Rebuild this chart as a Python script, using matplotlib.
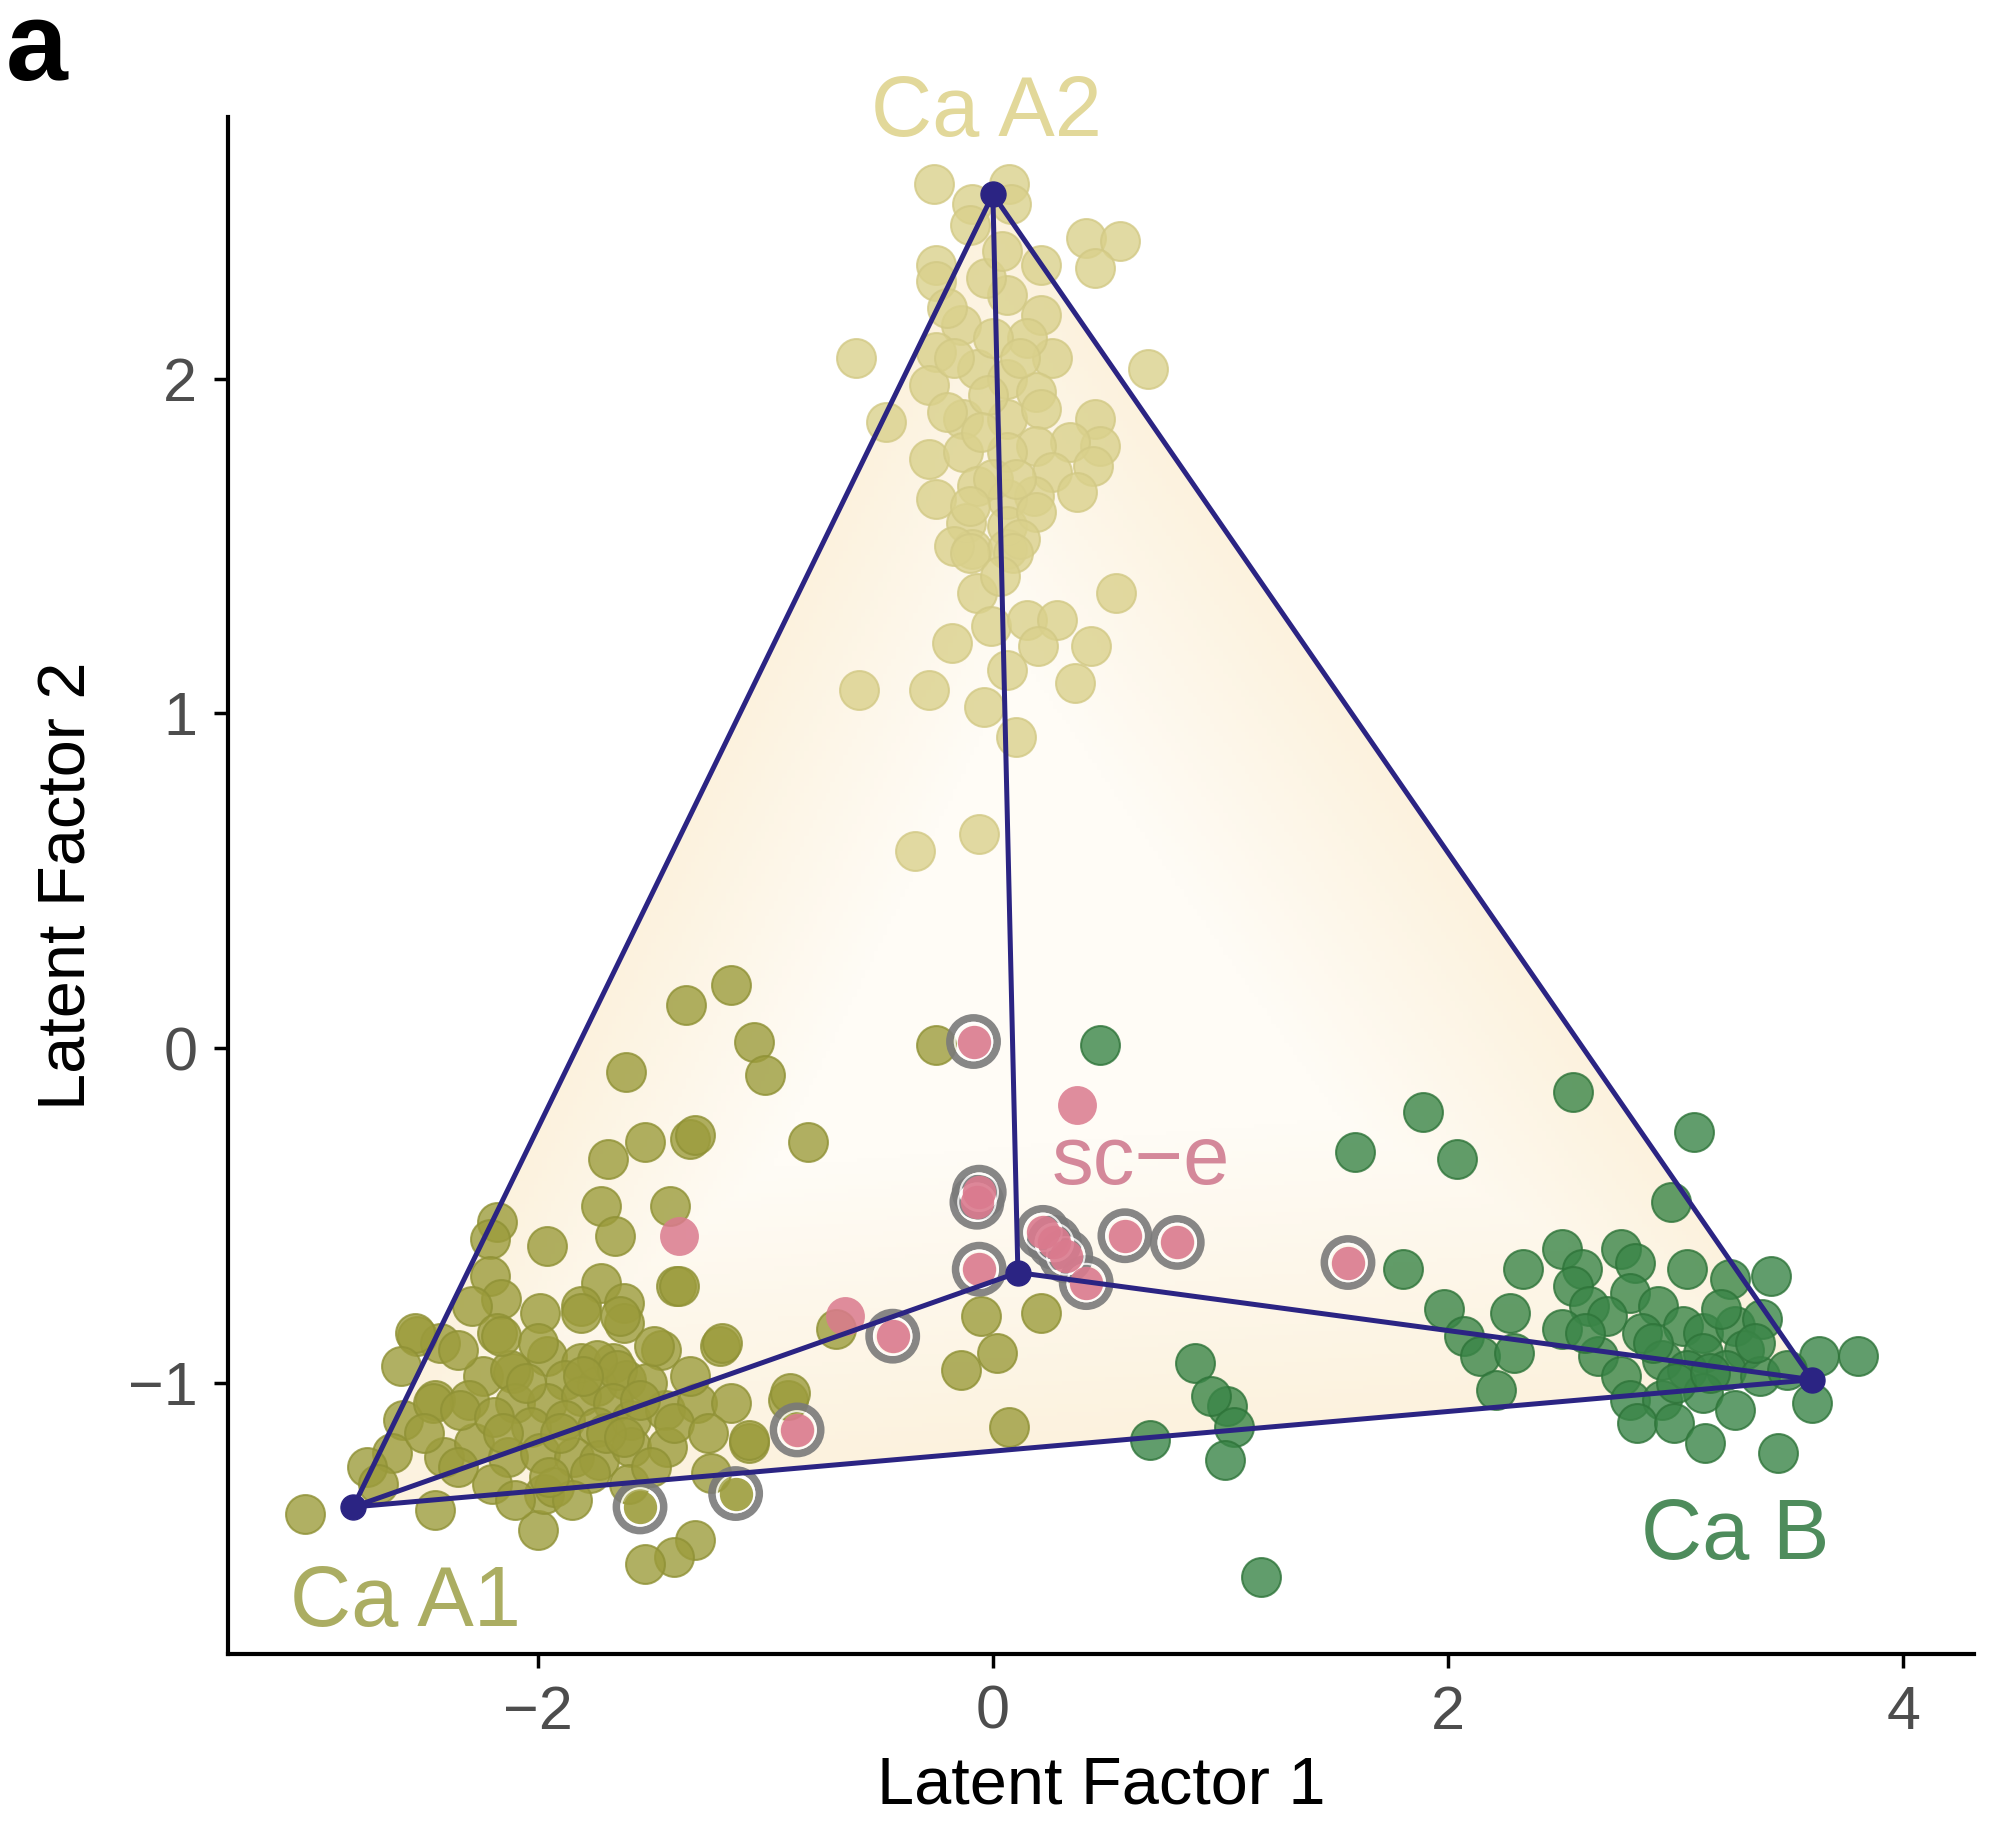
import numpy as np
import matplotlib.pyplot as plt
from matplotlib.patches import Polygon

plt.rcParams['font.family'] = ['Liberation Sans', 'DejaVu Sans']

# archetype vertices and centre
ca_a1 = (-2.81, -1.37)
ca_a2 = (0.0, 2.55)
ca_b = (3.60, -0.99)
centre = (0.11, -0.67)

# Ca A2 cells
a2_x = [-0.26, 0.07, 0.08, -0.09, -0.10, 0.41, 0.56, 0.45, 0.21, -0.25, -0.25, -0.60, 0.68, -0.47,
        0.06, 0.21, 0.26, 0.15, -0.14, -0.25, -0.28, -0.07, 0.06, 0.19, -0.13, 0.06, 0.21, 0.45,
        0.47, 0.34, 0.19, -0.28, -0.13, 0.06, 0.26, 0.44, 0.37, 0.18, -0.25, -0.07, 0.06, -0.12,
        0.06, 0.19, -0.09, 0.06, -0.17, 0.12, -0.20, -0.03, -0.17, 0.00, -0.20, 0.12,
        -0.10, 0.09, -0.07, 0.03, -0.01, 0.15, 0.28, 0.20, 0.43, 0.54, -0.18, 0.06, 0.36, -0.59,
        -0.28, -0.04, 0.10, -0.06, -0.34, -0.02, 0.00, -0.05, 0.10, -0.10, 0.04]
a2_y = [2.58, 2.58, 2.52, 2.52, 2.46, 2.42, 2.41, 2.33, 2.34, 2.34, 2.29, 2.06, 2.03, 1.87,
        2.25, 2.19, 2.06, 2.12, 2.16, 2.08, 1.98, 2.03, 2.00, 1.96, 1.88, 1.88, 1.91, 1.88,
        1.80, 1.81, 1.80, 1.76, 1.78, 1.78, 1.72, 1.74, 1.66, 1.65, 1.64, 1.68, 1.64, 1.57,
        1.56, 1.60, 1.49, 1.49, 1.50, 1.52, 2.21, 2.30, 2.06, 2.12, 1.90, 2.06,
        1.48, 1.48, 1.36, 1.41, 1.26, 1.28, 1.28, 1.20, 1.20, 1.36, 1.21, 1.13, 1.09, 1.07,
        1.07, 1.02, 0.93, 0.64, 0.59, 1.95, 1.70, 1.84, 1.70, 1.62, 2.38]

# Ca A1 cells
a1_x = [-1.35, -1.61, -1.53, -1.69, -1.33, -1.72, -1.42, -1.66, -2.18, -2.21, -1.96, -2.21,
        -1.39, -1.72, -1.62, -1.81, -1.99, -2.16, -2.29, -1.62, -2.53, -2.43, -2.18, -1.96,
        -1.46, -2.24, -2.11, -1.81, -1.67, -1.88, -1.74, -1.61, -2.45, -2.30,
        -3.02, -2.45, -2.00, -1.31, -1.40, -1.53, -1.97, -1.20, -1.07, -0.90, -1.24, -2.54,
        -2.59, -2.46, -2.64, -2.41, -2.28, -2.34, -2.12, -2.16, -1.81, -1.64, -1.74, -1.65,
        -2.10, -1.96, -1.81, -1.67, -2.19, -2.03, -1.88, -1.74, -1.59, -1.44, -1.30, -1.15,
        -2.13, -1.99, -1.84, -1.73, -1.59, -1.43, -1.52, -1.33, -1.93, -1.77,
        -1.15, -1.05, -1.00, -0.81, -1.31, -0.25, -1.19, -1.07, -0.89, -0.69, -0.05, 0.21,
        0.02, -0.14, 0.07, -2.75, -2.70, -2.20, -2.10, -1.85, -1.60, -2.60, -2.35, -1.50,
        -1.49, -1.38, -2.05, -1.90, -2.15, -1.95, -1.70, -1.55, -1.40, -1.25, -2.35, -2.50,
        -2.00, -1.80, -1.62]
a1_y = [0.13, -0.07, -0.28, -0.33, -0.27, -0.47, -0.47, -0.56, -0.52, -0.57, -0.59, -0.68,
        -0.71, -0.70, -0.76, -0.77, -0.79, -0.75, -0.77, -0.82, -0.86, -0.88, -0.85, -0.92,
        -0.90, -0.98, -0.97, -0.94, -0.94, -0.99, -1.01, -0.99, -1.05, -1.05,
        -1.39, -1.38, -1.44, -1.47, -1.52, -1.54, -1.33, -0.89, -1.18, -1.05, -1.27, -0.85,
        -1.11, -1.06, -1.21, -1.22, -1.18, -1.08, -0.96, -0.86, -0.79, -0.80, -0.93, -0.96,
        -1.06, -1.06, -1.04, -1.06, -1.10, -1.13, -1.11, -1.13, -1.11, -1.08, -1.06, -1.06,
        -1.22, -1.21, -1.22, -1.23, -1.19, -1.19, -1.00, -0.98, -1.31, -1.27,
        0.19, 0.02, -0.08, -0.28, -0.26, 0.01, -0.88, -1.17, -1.03, -0.84, -0.80, -0.79,
        -0.91, -0.96, -1.13, -1.25, -1.30, -1.30, -1.35, -1.35, -1.30, -0.95, -0.90, -1.25,
        -0.89, -0.71, -1.00, -1.15, -1.15, -1.28, -1.15, -1.05, -1.12, -1.15, -1.25, -1.15,
        -0.88, -0.98, -1.16]

# Ca B cells
b_x = [2.55, 1.89, 3.08, 1.59, 2.04, 2.98, 1.80, 2.33, 2.50, 2.59, 2.55, 2.62, 2.76, 2.82,
       3.05, 3.24, 3.42, 2.80, 2.92, 1.98, 2.27, 2.07, 2.14, 2.29, 2.21, 2.50, 2.66, 2.85,
       3.03, 3.12, 3.26, 3.38, 2.94, 3.12, 3.30, 3.05, 3.22, 3.37, 2.76, 2.80, 2.94, 3.12,
       3.26, 2.83, 2.99, 3.13, 3.45, 3.63, 3.80, 3.60, 3.49, 2.70, 2.90, 3.20, 3.35, 2.60,
       3.00, 3.15, 0.47, 0.89, 1.03, 0.96, 1.06, 0.69, 1.02, 1.18]
b_y = [-0.13, -0.19, -0.25, -0.31, -0.33, -0.46, -0.66, -0.66, -0.60, -0.66, -0.71, -0.77,
       -0.60, -0.64, -0.66, -0.69, -0.68, -0.73, -0.77, -0.78, -0.79, -0.86, -0.92, -0.91,
       -1.02, -0.84, -0.92, -0.85, -0.83, -0.85, -0.83, -0.81, -0.93, -0.91, -0.90, -0.96,
       -0.96, -0.98, -0.98, -1.05, -1.05, -1.03, -1.08, -1.12, -1.12, -1.18, -1.21, -0.92,
       -0.92, -1.06, -0.96, -0.80, -0.88, -0.78, -0.88, -0.85, -1.00, -0.97, 0.01, -0.94,
       -1.07, -1.04, -1.13, -1.17, -1.23, -1.58]

# sc-e cells
sce_x = [0.37, -0.65, -1.38]
sce_y = [-0.17, -0.80, -0.56]
sce_ring_x = [-0.085, -0.06, -0.07, -0.06, 0.22, 0.27, 0.32, 0.41, 0.58, 0.81, 1.56, -0.44, -0.86]
sce_ring_y = [0.02, -0.43, -0.46, -0.66, -0.55, -0.58, -0.62, -0.70, -0.56, -0.58, -0.64, -0.86, -1.14]

# Ca A1 cells with a ring
a1_ring_x = [-1.55, -1.13]
a1_ring_y = [-1.37, -1.33]

fig = plt.figure(figsize=(20, 18.34), dpi=100)
ax = fig.add_axes([0.114, 0.098, 0.873, 0.838])
xlim = (-3.36, 4.31)
ylim = (-1.81, 2.78)

navy = '#2B2483'
tri = np.array([ca_a1, ca_a2, ca_b])

# soft cream shading inside the simplex, a bit stronger near its edges
gx, gy = np.meshgrid(np.linspace(*xlim, 400), np.linspace(*ylim, 400))
dmin = np.full(gx.shape, np.inf)
for i in range(3):
    p, q = tri[i], tri[(i + 1) % 3]
    d = q - p
    t = np.clip(((gx - p[0]) * d[0] + (gy - p[1]) * d[1]) / (d @ d), 0, 1)
    dist = np.hypot(gx - p[0] - t * d[0], gy - p[1] - t * d[1])
    dmin = np.minimum(dmin, dist)
w = np.clip(dmin / 0.9, 0, 1)[..., None]
c_edge = np.array([252, 242, 222]) / 255
c_in = np.array([255, 252, 246]) / 255
img = c_edge * (1 - w) + c_in * w
im = ax.imshow(img, extent=(*xlim, *ylim), origin='lower', aspect='auto', zorder=0)
clip = Polygon(tri, closed=True, transform=ax.transData)
im.set_clip_path(clip)

pt = 28 ** 2
ax.scatter(a2_x, a2_y, s=pt, color='#DAD18C', alpha=0.8, edgecolors='#D2C985', lw=1.5, zorder=2)
ax.scatter(a1_x, a1_y, s=pt, color='#9C9C3C', alpha=0.8, edgecolors='#8F9135', lw=1.5, zorder=2)
ax.scatter(b_x, b_y, s=pt, color='#3A8547', alpha=0.8, edgecolors='#2E7439', lw=1.5, zorder=2)
ax.scatter(sce_x, sce_y, s=pt, color='#DA7A8E', alpha=0.85, lw=0, zorder=3)

# ringed cells
rx = sce_ring_x + a1_ring_x
ry = sce_ring_y + a1_ring_y
ax.scatter(rx, ry, s=34 ** 2, facecolors='none', edgecolors='#7A7A7A', lw=5.5, alpha=0.9, zorder=3)
ax.scatter(rx, ry, s=27 ** 2, facecolors='none', edgecolors='white', lw=1.5, alpha=0.8, zorder=3)
ax.scatter(sce_ring_x, sce_ring_y, s=24 ** 2, color='#DA7A8E', alpha=0.9, lw=0, zorder=3)
ax.scatter(a1_ring_x, a1_ring_y, s=24 ** 2, color='#9C9C3C', alpha=0.9, lw=0, zorder=3)

# simplex edges and spokes to the centre
edge = np.vstack([tri, tri[:1]])
ax.plot(edge[:, 0], edge[:, 1], color=navy, lw=3.6, zorder=4)
for v in tri:
    ax.plot([v[0], centre[0]], [v[1], centre[1]], color=navy, lw=3.6, zorder=4)
vx = [ca_a1[0], ca_a2[0], ca_b[0], centre[0]]
vy = [ca_a1[1], ca_a2[1], ca_b[1], centre[1]]
ax.scatter(vx, vy, s=18 ** 2, color=navy, zorder=5)

ax.text(-0.03, 2.79, 'Ca A2', color='#E2D89A', fontsize=61, ha='center', va='center', clip_on=False)
ax.text(-2.58, -1.66, 'Ca A1', color='#ABAD62', fontsize=61, ha='center', va='center')
ax.text(3.26, -1.46, 'Ca B', color='#4E8C5C', fontsize=61, ha='center', va='center')
ax.text(0.65, -0.34, 'sc\u2212e', color='#D4889A', fontsize=60, ha='center', va='center')

ax.set_xlim(*xlim)
ax.set_ylim(*ylim)
ax.set_xticks([-2, 0, 2, 4])
ax.set_yticks([-1, 0, 1, 2])
ax.spines['top'].set_visible(False)
ax.spines['right'].set_visible(False)
for s in ['left', 'bottom']:
    ax.spines[s].set_linewidth(3)
ax.tick_params(labelsize=44, labelcolor='#4D4D4D', width=2.5, length=10, pad=12)
ax.set_xlabel('Latent Factor 1', fontsize=48, labelpad=10)
ax.set_ylabel('Latent Factor 2', fontsize=48, labelpad=20)

fig.text(0.003, 0.972, 'a', fontsize=80, fontweight='bold', va='center', ha='left')

fig.savefig('out.png', dpi=100)
